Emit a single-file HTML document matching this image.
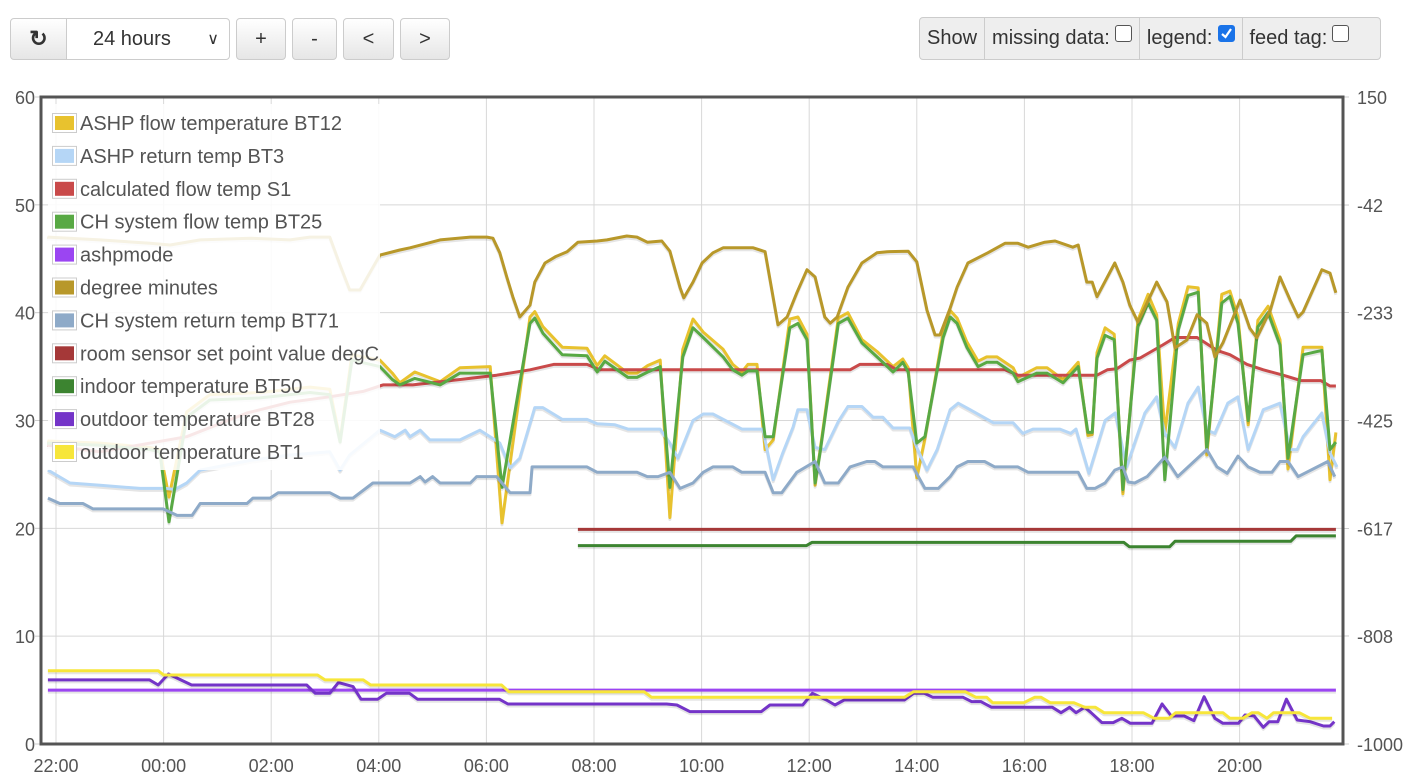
<!DOCTYPE html>
<html><head><meta charset="utf-8">
<style>
body{margin:0;background:#fff;font-family:"Liberation Sans",sans-serif;width:1411px;height:784px;overflow:hidden;position:relative}
.btn{position:absolute;top:18px;height:42px;border:1px solid #ccc;border-radius:4px;background:linear-gradient(#fff,#e6e6e6);box-sizing:border-box;font-size:20px;color:#333;display:flex;align-items:center;justify-content:center}
.grp{position:absolute;left:919px;top:17px;width:462px;height:43px;border:1px solid #ccc;border-radius:4px;background:#eee;box-sizing:border-box;display:flex;font-size:20px;color:#333}
.grp div{display:flex;align-items:center;padding:0 7px;border-right:1px solid #ccc;height:100%;box-sizing:border-box}
.grp div:last-child{border-right:none}
.cb{display:inline-block;width:17px;height:17px;border:1px solid #555;border-radius:3px;margin-left:5px;position:relative;top:-5px;background:#fff;box-sizing:border-box}
.cb.on{background:#1a73e8;border-color:#1a73e8}
</style></head><body>
<div class="btn" style="left:10px;width:57px;border-radius:4px 0 0 4px;font-size:22px;font-weight:bold">&#x21bb;</div>
<div class="btn" style="left:66px;width:164px;border-radius:0 4px 4px 0;background:#fff;justify-content:flex-start;padding-left:26px">24 hours<span style="position:absolute;right:10px;font-size:16px">&#x2228;</span></div>
<div class="btn" style="left:236px;width:50px">+</div>
<div class="btn" style="left:292px;width:45px">-</div>
<div class="btn" style="left:343px;width:51px">&lt;</div>
<div class="btn" style="left:400px;width:50px">&gt;</div>
<div class="grp">
<div>Show</div>
<div>missing data:<span class="cb"></span></div>
<div>legend:<span class="cb on"><svg width="15" height="15" style="position:absolute;left:0;top:0"><path d="M3 8 L6.5 11 L12 3" stroke="#fff" stroke-width="2.2" fill="none"/></svg></span></div>
<div>feed tag:<span class="cb"></span></div>
</div>
<svg id="chart" width="1411" height="784" style="position:absolute;left:0;top:0"></svg>
<script>
const xTicks=[0,2,4,6,8,10,12,14,16,18,20,22];
const xTickLabels=["22:00","00:00","02:00","04:00","06:00","08:00","10:00","12:00","14:00","16:00","18:00","20:00"];
const yTicks=[0,10,20,30,40,50,60];
const y2Ticks=[-1000,-808,-617,-425,-233,-42,150];

const tBT25=[-0.15,0.82,1.75,1.93,2.10,2.43,2.86,3.79,4.72,5.09,5.28,5.50,6.02,6.25,6.39,6.67,7.14,7.51,8.07,8.29,8.81,8.90,9.05,9.41,9.87,10.06,10.20,10.63,10.80,11.00,11.23,11.41,11.65,11.84,12.03,12.40,12.58,12.75,12.86,13.03,13.18,13.33,13.64,13.79,13.96,14.11,14.20,14.54,14.72,14.98,15.26,15.56,15.74,15.84,16.00,16.15,16.49,16.62,16.75,16.93,17.14,17.30,17.49,17.79,17.88,18.23,18.42,18.72,19.00,19.18,19.26,19.35,19.50,19.67,19.83,20.11,20.30,20.46,20.61,20.86,21.04,21.23,21.39,21.67,21.82,21.97,22.16,22.34,22.53,22.75,22.90,23.18,23.53,23.68,23.79];
const vBT25=[27.9,27.7,27.3,27.1,20.6,30.3,31.9,32.1,32.6,32.4,28.0,35.6,35.0,33.8,33.3,33.9,33.3,34.4,34.4,23.8,39.0,39.5,38.1,36.1,36.0,34.5,35.5,34.0,34.0,34.5,35.0,23.8,35.9,38.6,37.7,35.9,34.7,34.2,34.6,34.6,28.5,28.5,38.6,39.0,37.5,24.2,27.0,39.0,39.5,37.2,35.9,34.5,35.4,34.5,27.9,28.5,37.7,39.6,39.0,36.8,35.0,35.4,35.4,34.4,33.6,34.4,34.4,33.5,35.0,28.9,28.9,35.8,37.9,37.5,23.6,38.7,40.9,39.3,24.5,38.4,41.6,41.9,27.3,40.9,41.5,39.0,30.0,38.7,40.0,37.0,26.5,36.1,36.5,27.3,28.0];
const tBT12=tBT25;
const vBT12=[28.1,27.9,27.5,27.3,22.9,30.8,32.4,32.6,33.1,32.9,28.2,36.1,35.6,34.4,33.5,34.5,33.6,34.9,35.0,20.5,39.6,40.1,38.7,36.8,36.7,35.1,36.0,34.4,34.4,35.1,35.6,21.0,36.6,39.4,38.2,36.6,35.2,34.5,35.2,35.2,27.3,28.2,39.4,39.6,38.0,24.0,27.2,39.5,40.0,37.5,36.4,35.0,35.7,34.9,24.7,28.3,38.2,40.2,39.5,37.3,35.5,35.9,35.9,34.9,34.0,34.9,34.9,33.8,35.4,28.6,28.7,36.3,38.6,38.0,23.2,39.3,41.7,39.8,28.8,39.0,42.4,42.3,26.8,41.7,42.0,39.6,29.6,39.3,40.6,37.5,25.5,36.8,36.8,24.5,28.9];

const tBT3=[-0.15,0.26,0.82,1.56,2.03,2.21,2.43,2.68,3.61,4.35,5.09,5.28,5.46,6.02,6.30,6.49,6.58,6.77,6.95,7.51,7.88,8.16,8.25,8.44,8.62,8.90,9.05,9.41,9.87,10.06,10.39,10.63,11.23,11.41,11.56,11.84,12.03,12.21,12.75,13.14,13.33,13.51,13.70,13.79,13.96,14.11,14.29,14.54,14.72,14.98,15.19,15.37,15.56,15.87,16.00,16.19,16.38,16.62,16.77,16.99,17.42,17.79,17.97,18.16,18.66,18.86,18.96,19.20,19.50,19.69,19.90,20.24,20.46,20.61,20.80,21.04,21.23,21.39,21.54,21.78,21.97,22.16,22.44,22.75,22.94,23.07,23.18,23.53,23.68,23.81];
const vBT3=[25.4,24.2,24.0,23.7,23.7,23.6,24.2,25.4,26.3,26.8,27.1,25.4,26.8,29.1,28.5,29.1,28.5,29.1,28.2,28.2,29.1,28.2,27.9,25.6,26.5,31.2,31.2,30.1,30.1,29.7,29.6,29.2,29.2,27.9,26.5,30.0,30.6,30.6,29.2,29.2,24.5,27.0,29.4,31.0,31.0,27.5,27.3,29.9,31.3,31.3,30.3,30.3,29.3,29.3,27.5,25.4,27.3,31.0,31.6,31.0,29.8,29.8,28.8,29.2,29.2,28.8,29.2,25.1,30.0,30.7,25.7,30.7,32.2,28.8,27.5,31.6,33.1,29.1,28.8,31.6,32.2,27.3,31.0,31.6,27.3,27.3,28.5,30.7,27.0,25.7];

const tBT71=[-0.15,0.07,0.50,0.69,1.99,2.25,2.53,2.68,3.55,3.66,3.98,4.13,5.09,5.28,5.52,5.89,6.58,6.77,6.86,7.00,7.14,7.70,7.82,8.19,8.44,8.81,8.85,9.87,10.06,10.80,10.99,11.19,11.41,11.60,11.84,12.03,12.21,12.58,12.75,13.18,13.33,13.49,13.77,14.11,14.29,14.54,14.76,15.07,15.22,15.37,15.93,16.15,16.40,16.62,16.75,16.95,17.26,17.45,17.88,18.07,19.00,19.16,19.31,19.50,19.68,19.83,19.93,20.05,20.28,20.61,20.85,21.39,21.58,21.77,21.97,22.16,22.38,22.60,22.75,22.90,23.09,23.64,23.77];
const vBT71=[22.8,22.3,22.3,21.8,21.8,21.2,21.2,22.3,22.3,22.8,22.8,23.3,23.3,22.8,22.8,24.2,24.2,24.8,24.3,24.8,24.2,24.2,24.8,24.8,23.3,23.3,25.7,25.7,25.2,25.2,24.8,24.8,25.2,23.7,24.2,25.2,25.7,25.7,25.2,25.2,23.3,23.3,25.2,26.2,24.2,24.2,25.7,26.2,26.2,25.7,25.7,23.7,23.7,24.8,25.7,26.2,26.2,25.7,25.7,25.2,25.2,23.7,23.7,24.2,25.4,25.7,24.3,24.2,24.8,26.6,24.8,27.3,25.7,25.1,26.7,25.7,25.2,25.2,26.2,26.2,24.8,26.2,24.8];

const tS1=[-0.15,0.82,2.43,3.55,4.35,5.09,5.71,6.08,6.63,7.51,8.19,8.81,9.25,9.87,10.11,14.76,14.94,15.45,15.63,17.64,17.88,19.35,19.54,19.72,19.96,20.15,20.57,20.80,21.21,21.58,21.82,22.14,22.44,22.81,23.14,23.51,23.68,23.79];
const vS1=[27.7,27.1,28.5,30.7,31.7,32.2,32.7,33.3,33.3,33.8,34.2,34.7,35.2,35.2,34.7,34.7,35.2,35.2,34.7,34.7,34.2,34.2,34.7,34.8,35.6,35.8,37.0,37.7,37.7,36.5,36.1,35.2,34.7,34.2,33.7,33.7,33.2,33.2];

const tAshp=[-0.15,23.79];
const vAshp=[5.0,5.0];

const tDM=[-0.15,0.82,1.75,2.12,2.68,3.61,4.35,4.72,5.09,5.28,5.46,5.65,6.02,6.39,6.58,7.14,7.70,8.01,8.12,8.25,8.38,8.49,8.62,8.81,8.90,9.09,9.28,9.50,9.70,10.06,10.24,10.61,10.80,10.99,11.26,11.41,11.60,11.67,11.84,12.01,12.21,12.40,12.96,13.18,13.42,13.59,13.77,13.96,14.11,14.29,14.39,14.52,14.72,14.98,15.26,15.45,15.84,16.00,16.19,16.34,16.43,16.62,16.75,16.95,17.32,17.64,17.88,18.07,18.38,18.57,18.90,19.00,19.16,19.26,19.35,19.68,19.83,19.96,20.11,20.28,20.46,20.65,20.80,21.02,21.21,21.39,21.54,21.69,22.01,22.19,22.32,22.57,22.75,22.94,23.09,23.18,23.53,23.68,23.79];
const vDM=[-99,-104,-110,-113,-104,-101,-104,-99,-99,-149,-193,-193,-131,-122,-118,-104,-99,-99,-101,-127,-170,-205,-241,-220,-179,-145,-134,-125,-108,-106,-104,-97,-99,-108,-106,-124,-189,-207,-179,-145,-127,-118,-118,-125,-255,-241,-198,-157,-170,-241,-252,-241,-188,-145,-127,-125,-124,-143,-229,-273,-273,-225,-188,-145,-127,-110,-110,-117,-108,-106,-117,-113,-179,-179,-205,-145,-179,-220,-250,-216,-179,-214,-296,-282,-237,-252,-312,-287,-211,-261,-278,-229,-170,-211,-241,-232,-157,-163,-198];

const tSet=[9.70,23.79];
const vSet=[19.9,19.9];
const tBT50=[9.70,13.95,14.05,19.85,19.95,20.70,20.80,22.95,23.05,23.79];
const vBT50=[18.4,18.4,18.7,18.7,18.3,18.3,18.8,18.8,19.3,19.3];

const tBT28=[-0.15,1.74,1.90,2.09,2.52,4.66,4.82,5.09,5.25,5.52,5.67,5.98,6.14,6.57,6.72,8.24,8.40,11.35,11.54,11.78,13.11,13.27,13.88,14.06,14.32,14.48,14.65,15.77,15.94,16.14,16.30,16.86,17.02,17.19,17.39,18.52,18.68,18.84,18.96,19.12,19.24,19.44,19.65,19.81,19.97,20.37,20.56,20.73,20.97,21.15,21.34,21.54,21.69,21.98,22.10,22.27,22.44,22.55,22.71,22.87,23.07,23.31,23.56,23.68,23.76];
const vBT28=[5.94,5.94,5.47,6.49,5.47,5.47,4.70,4.70,5.69,5.32,4.15,4.15,4.70,4.70,4.15,4.15,3.71,3.71,3.62,3.00,3.00,3.62,3.62,4.70,4.08,3.62,4.08,4.08,4.70,4.70,4.33,4.33,3.93,3.93,3.40,3.40,2.90,3.40,2.90,3.40,2.90,1.98,1.98,2.38,1.92,1.92,3.71,2.60,2.60,2.16,4.39,2.38,1.92,1.92,2.69,2.60,1.55,2.07,2.07,4.15,2.23,2.07,1.67,1.67,2.07];

const tBT1=[-0.15,1.90,2.00,4.86,5.00,5.71,5.85,8.28,8.42,10.93,11.07,15.77,15.94,16.90,17.10,17.30,17.41,17.99,18.19,18.31,18.48,18.92,19.12,19.32,19.48,20.21,20.41,20.69,20.81,21.69,21.82,22.06,22.23,22.35,22.51,22.63,23.11,23.31,23.72];
const vBT1=[6.8,6.8,6.4,6.4,5.94,5.94,5.47,5.47,4.85,4.85,4.33,4.33,4.85,4.85,4.33,4.33,3.83,3.83,4.33,4.33,3.83,3.83,3.4,3.4,2.9,2.9,2.38,2.38,2.9,2.9,2.38,2.38,2.9,2.9,2.38,2.9,2.9,2.38,2.38];

const seriesNames=["ASHP flow temperature BT12","ASHP return temp BT3","calculated flow temp S1","CH system flow temp BT25","ashpmode","degree minutes","CH system return temp BT71","room sensor set point value degC","indoor temperature BT50","outdoor temperature BT28","outdoor temperature BT1"];
const seriesColors=["#e8c22e","#b5d6f6","#c94a4a","#58a944","#9b45f2","#b8982a","#8eaac8","#a53838","#3c8430","#7434c8","#f7e63a"];

const L=41,R=1343,T=97,B=744;
const xS=t=>56+t*53.8;
const yS=v=>B-(v-0)*(B-T)/60;
const y2S=v=>B-(v+1000)*(B-T)/1150;
const NS="http://www.w3.org/2000/svg";
const svg=document.getElementById('chart');
function mk(tag,attrs,parent){const e=document.createElementNS(NS,tag);for(const k in attrs)e.setAttribute(k,attrs[k]);(parent||svg).appendChild(e);return e;}

xTicks.forEach((t,i)=>{
 const g=mk('line',{x1:xS(t),x2:xS(t),y1:T,y2:B,stroke:'#d8d8d8','stroke-width':1});
 
 
 const tx=mk('text',{x:xS(t),y:772,'text-anchor':'middle','font-size':18,fill:'#545454','font-family':'Liberation Sans, sans-serif'});
 tx.textContent=xTickLabels[i];
 
 
});
yTicks.forEach(v=>{
 const g=mk('line',{x1:L,x2:R,y1:yS(v),y2:yS(v),stroke:'#d8d8d8','stroke-width':1});
 
 
 mk('line',{x1:L-6,x2:L,y1:yS(v),y2:yS(v),stroke:'#ccc'});
 const tx=mk('text',{x:35,y:yS(v)+7,'text-anchor':'end','font-size':18,fill:'#545454','font-family':'Liberation Sans, sans-serif'});
 tx.textContent=v;
 
 
});
y2Ticks.forEach(v=>{
 mk('line',{x1:R,x2:R+6,y1:y2S(v),y2:y2S(v),stroke:'#ccc'});
 const tx=mk('text',{x:1357,y:y2S(v)+7,'font-size':18,fill:'#545454','font-family':'Liberation Sans, sans-serif'});
 tx.textContent=v;
 
 
});

const series=[[tBT12,vBT12,yS],[tBT3,vBT3,yS],[tS1,vS1,yS],[tBT25,vBT25,yS],[tAshp,vAshp,yS],[tDM,vDM,y2S],[tBT71,vBT71,yS],[tSet,vSet,yS],[tBT50,vBT50,yS],[tBT28,vBT28,yS],[tBT1,vBT1,yS]];
series.forEach((s,i)=>{
 const [ts,vs,ys]=s;
 const pts=ts.map((t,j)=>xS(t).toFixed(1)+','+ys(vs[j]).toFixed(1)).join(' ');
 const sh=mk('polyline',{points:pts,fill:'none',stroke:'rgba(0,0,0,0.1)','stroke-width':3,transform:'translate(0,2)','stroke-linejoin':'round'});
 
 
 const p=mk('polyline',{points:pts,fill:'none',stroke:seriesColors[i],'stroke-width':3,'stroke-linejoin':'round'});
 
 
});

const bd=mk('rect',{x:L,y:T,width:R-L,height:B-T,fill:'none',stroke:'#545454','stroke-width':3});



const lg=mk('rect',{x:48,y:104,width:332,height:366,fill:'#fff','fill-opacity':0.87});


seriesNames.forEach((n,i)=>{
 const cy=123+i*32.9;
 const g=mk('g',{});
 
 
 mk('rect',{x:52.5,y:cy-9.5,width:24,height:19,fill:'#fff',stroke:'#ccc'},g);
 mk('rect',{x:55,y:cy-7,width:19,height:14,fill:seriesColors[i]},g);
 const tx=mk('text',{x:80,y:cy+7,'font-size':20,fill:'#545454','font-family':'Liberation Sans, sans-serif'},g);
 tx.textContent=n;
});
</script>
</body></html>
